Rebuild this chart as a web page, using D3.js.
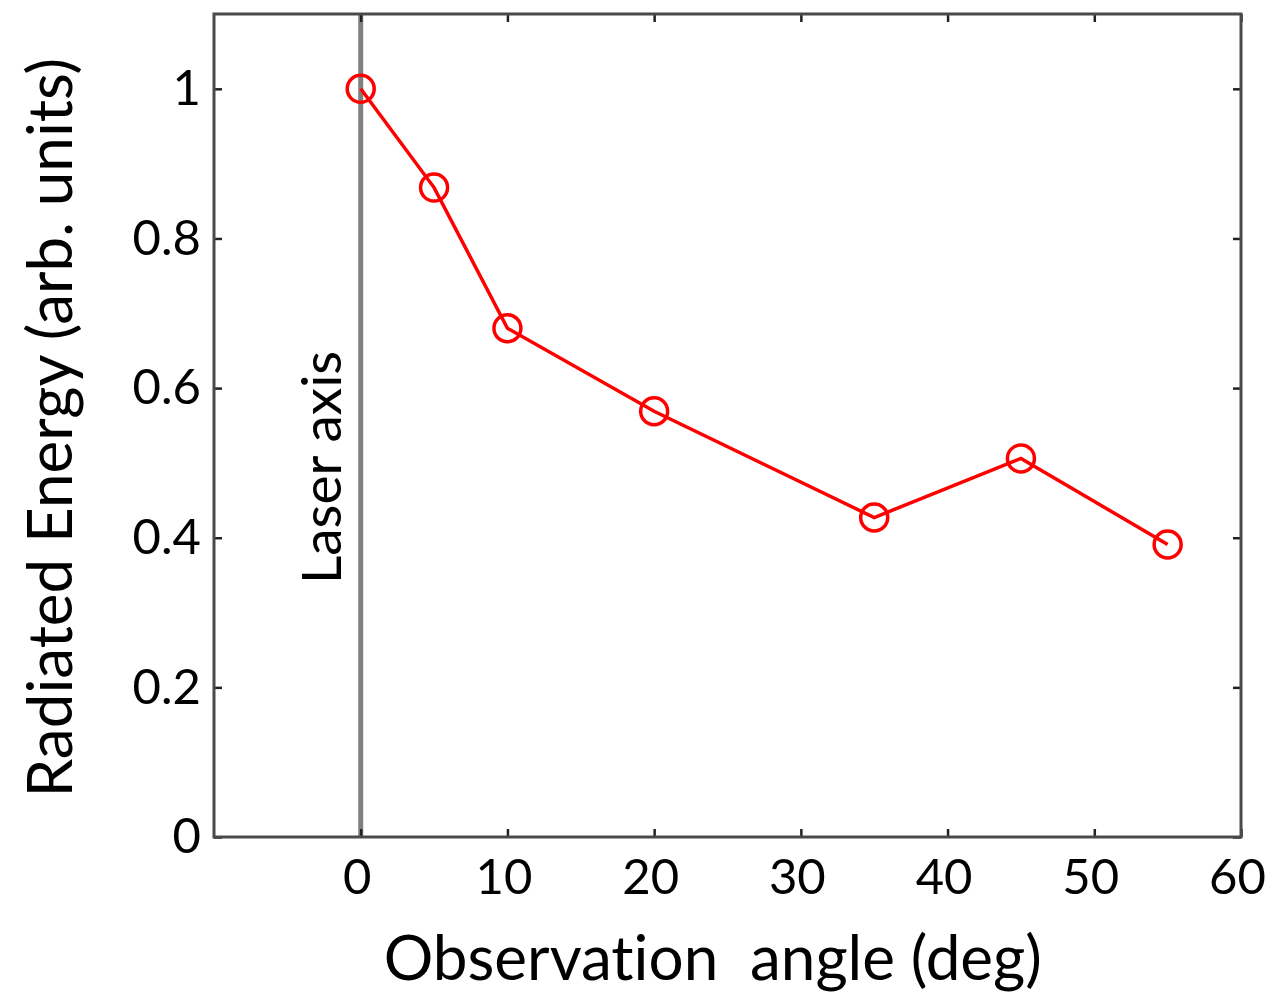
<!DOCTYPE html>
<html>
<head>
<meta charset="utf-8">
<script src="https://cdn.jsdelivr.net/npm/d3@7"></script>
<style>
  body { margin: 0; background: #fff; }
  svg text { font-family: Lato, "Open Sans", sans-serif; fill: #000; font-variant-ligatures: none; font-feature-settings: "liga" 0; }
</style>
</head>
<body>
<svg width="1268" height="995"></svg>
<script>
// observation angle (deg) vs radiated energy (arb. units)
var angles = [0, 5, 10, 20, 35, 45, 55];
var energy = [1.0, 0.868, 0.68, 0.569, 0.427, 0.506, 0.391];
var xTicks = [0, 10, 20, 30, 40, 50, 60];
var yTicks = [0, 0.2, 0.4, 0.6, 0.8, 1];
var laserAngle = 0;

var svg = d3.select("svg"),
    margin = {left: 214, right: 27, top: 14, bottom: 158},
    width = 1268 - margin.left - margin.right,
    height = 995 - margin.top - margin.bottom,
    g = svg.append("g").attr("transform", "translate(" + margin.left + "," + margin.top + ")");

var x = d3.scaleLinear().domain([-10, 60]).range([0, width]);
var y = d3.scaleLinear().domain([0, 1.1]).range([height, 0]);

// laser axis
g.append("line")
    .attr("x1", x(laserAngle)).attr("x2", x(laserAngle))
    .attr("y1", 0).attr("y2", height)
    .attr("stroke", "#808080")
    .attr("stroke-width", 5);

g.append("text")
    .attr("transform", "translate(" + (x(laserAngle) - 20) + "," + y(0.494) + ") rotate(-90)")
    .attr("text-anchor", "middle")
    .style("font-size", "55px")
    .text("Laser axis");

// axes, ticks pointing inward on all four sides
function tickFmt(d) { return d === 0 ? "0" : d3.format("~g")(d); }

var xAxis = g.append("g")
    .attr("transform", "translate(0," + height + ")")
    .call(d3.axisBottom(x).tickValues(xTicks).tickSizeInner(-8).tickSizeOuter(0).tickPadding(22).tickFormat(tickFmt));
var xTop = g.append("g")
    .call(d3.axisTop(x).tickValues(xTicks).tickSizeInner(-8).tickSizeOuter(0).tickFormat(""));
var yAxis = g.append("g")
    .call(d3.axisLeft(y).tickValues(yTicks).tickSizeInner(-8).tickSizeOuter(0).tickPadding(13).tickFormat(tickFmt));
var yRight = g.append("g")
    .attr("transform", "translate(" + width + ",0)")
    .call(d3.axisRight(y).tickValues(yTicks).tickSizeInner(-8).tickSizeOuter(0).tickFormat(""));

[xAxis, xTop, yAxis, yRight].forEach(function(a) {
  a.select(".domain").remove();
  a.selectAll(".tick line").attr("stroke", "#222").attr("stroke-width", 2.5);
  a.selectAll("text").style("font-size", "49px").attr("fill", "#000");
});
xAxis.selectAll("text").attr("dy", "0.71em").attr("dx", -4);

g.append("rect")
    .attr("width", width).attr("height", height)
    .attr("fill", "none")
    .attr("stroke", "#4a4a4a")
    .attr("stroke-width", 3);

// data
var pts = angles.map(function(a, i) { return [a, energy[i]]; });

g.append("path")
    .datum(pts)
    .attr("fill", "none")
    .attr("stroke", "#ff0000")
    .attr("stroke-width", 3.5)
    .attr("d", d3.line().x(function(d) { return x(d[0]); }).y(function(d) { return y(d[1]); }));

g.selectAll("circle.pt")
    .data(pts)
    .enter().append("circle")
    .attr("class", "pt")
    .attr("cx", function(d) { return x(d[0]); })
    .attr("cy", function(d) { return y(d[1]); })
    .attr("r", 13.5)
    .attr("fill", "none")
    .attr("stroke", "#ff0000")
    .attr("stroke-width", 3.5);

// axis labels
svg.append("text")
    .attr("x", margin.left + x(24))
    .attr("y", 980)
    .attr("text-anchor", "middle")
    .style("font-size", "62px")
    .text("Observation\u00a0 angle (deg)");

svg.append("text")
    .attr("transform", "translate(72," + (margin.top + y(0.547)) + ") rotate(-90)")
    .attr("text-anchor", "middle")
    .style("font-size", "62px")
    .text("Radiated Energy (arb. units)");
</script>
</body>
</html>
